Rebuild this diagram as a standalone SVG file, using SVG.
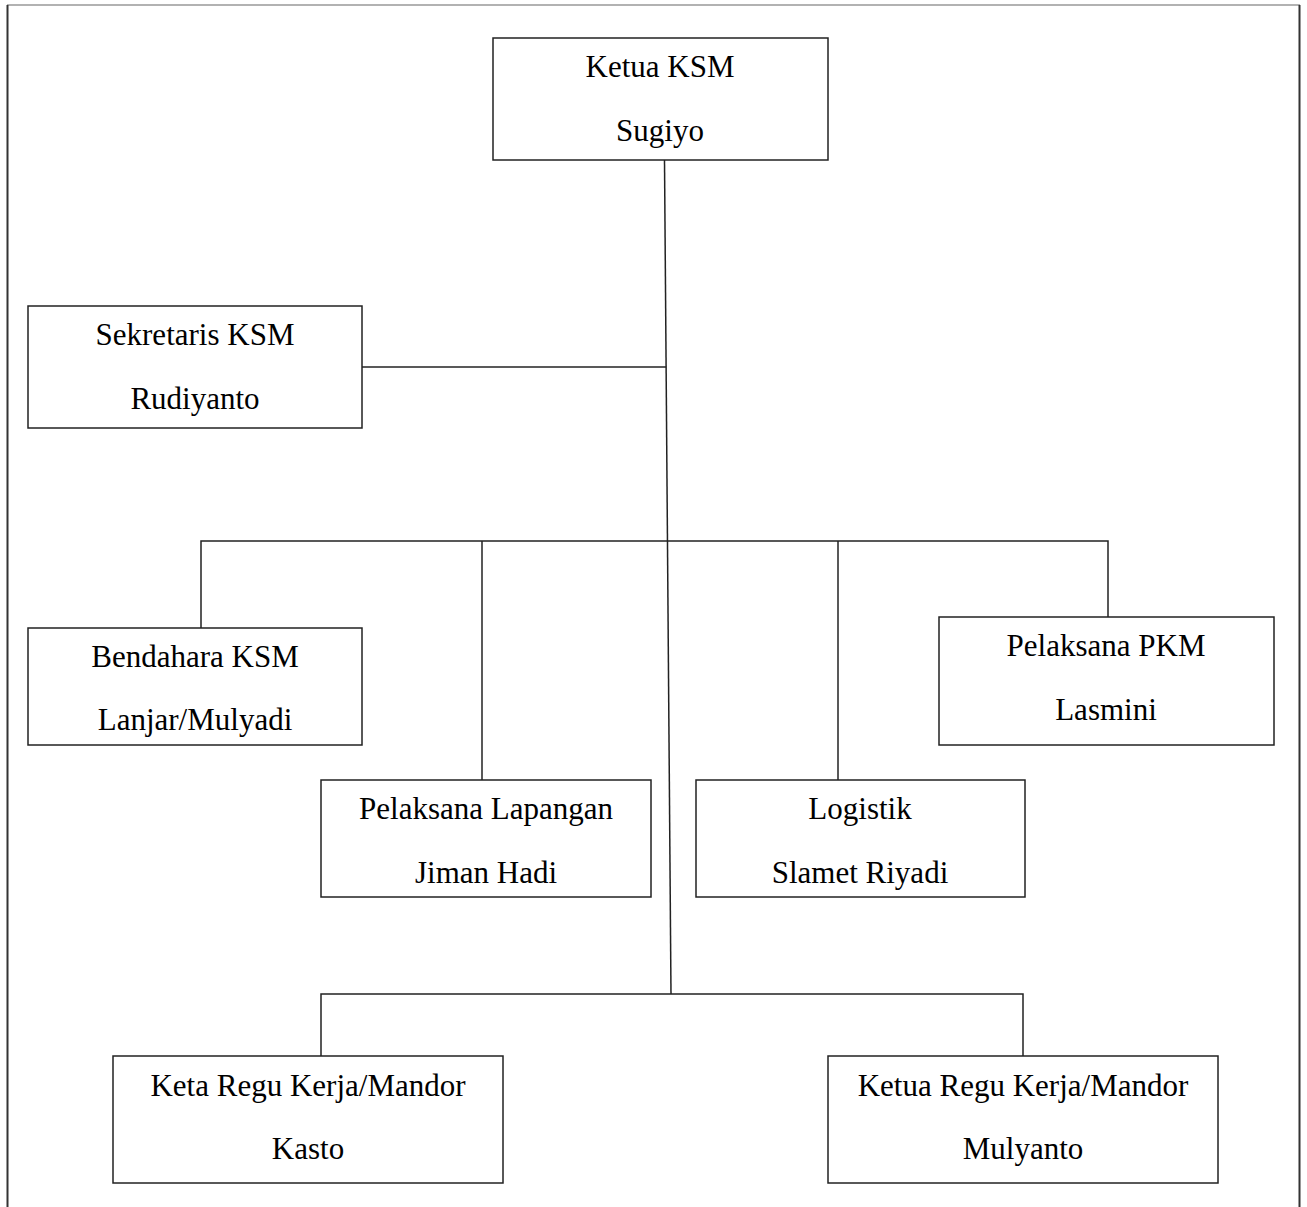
<svg xmlns="http://www.w3.org/2000/svg" width="1307" height="1207" viewBox="0 0 1307 1207">
<style>
.box{fill:#fff;stroke:#222;stroke-width:1.5}
.ln{stroke:#222;stroke-width:1.5;fill:none}
text{font-family:"Liberation Serif","Times New Roman",serif;font-size:31px;fill:#000;text-anchor:middle}
</style>
<rect width="1307" height="1207" fill="#fff"/>
<g id="frame">
<line x1="7" y1="5" x2="1300" y2="5" stroke="#999" stroke-width="1.5"/>
<line x1="7.5" y1="5" x2="7.5" y2="1207" stroke="#333" stroke-width="2"/>
<line x1="1299.5" y1="5" x2="1299.5" y2="1207" stroke="#333" stroke-width="2"/>
</g>
<g id="connectors">
<line class="ln" x1="664.5" y1="160" x2="671" y2="994"/>
<line class="ln" x1="362" y1="367" x2="666" y2="367"/>
<polyline class="ln" points="201,628 201,541 1108,541 1108,617"/>
<line class="ln" x1="482" y1="541" x2="482" y2="780"/>
<line class="ln" x1="838" y1="541" x2="838" y2="780"/>
<polyline class="ln" points="321,1056 321,994 1023,994 1023,1056"/>
</g>
<g id="ketua">
<rect class="box" x="493" y="38" width="335" height="122"/>
<text x="660" y="77">Ketua KSM</text>
<text x="660" y="141">Sugiyo</text>
</g>
<g id="sekretaris">
<rect class="box" x="28" y="306" width="334" height="122"/>
<text x="195" y="345">Sekretaris KSM</text>
<text x="195" y="409">Rudiyanto</text>
</g>
<g id="bendahara">
<rect class="box" x="28" y="628" width="334" height="117"/>
<text x="195" y="667">Bendahara KSM</text>
<text x="195" y="730">Lanjar/Mulyadi</text>
</g>
<g id="pkm">
<rect class="box" x="939" y="617" width="335" height="128"/>
<text x="1106" y="656">Pelaksana PKM</text>
<text x="1106" y="720">Lasmini</text>
</g>
<g id="lapangan">
<rect class="box" x="321" y="780" width="330" height="117"/>
<text x="486" y="819">Pelaksana Lapangan</text>
<text x="486" y="883">Jiman Hadi</text>
</g>
<g id="logistik">
<rect class="box" x="696" y="780" width="329" height="117"/>
<text x="860" y="819">Logistik</text>
<text x="860" y="883">Slamet Riyadi</text>
</g>
<g id="regu1">
<rect class="box" x="113" y="1056" width="390" height="127"/>
<text x="308" y="1096">Keta Regu Kerja/Mandor</text>
<text x="308" y="1159">Kasto</text>
</g>
<g id="regu2">
<rect class="box" x="828" y="1056" width="390" height="127"/>
<text x="1023" y="1096">Ketua Regu Kerja/Mandor</text>
<text x="1023" y="1159">Mulyanto</text>
</g>
</svg>
